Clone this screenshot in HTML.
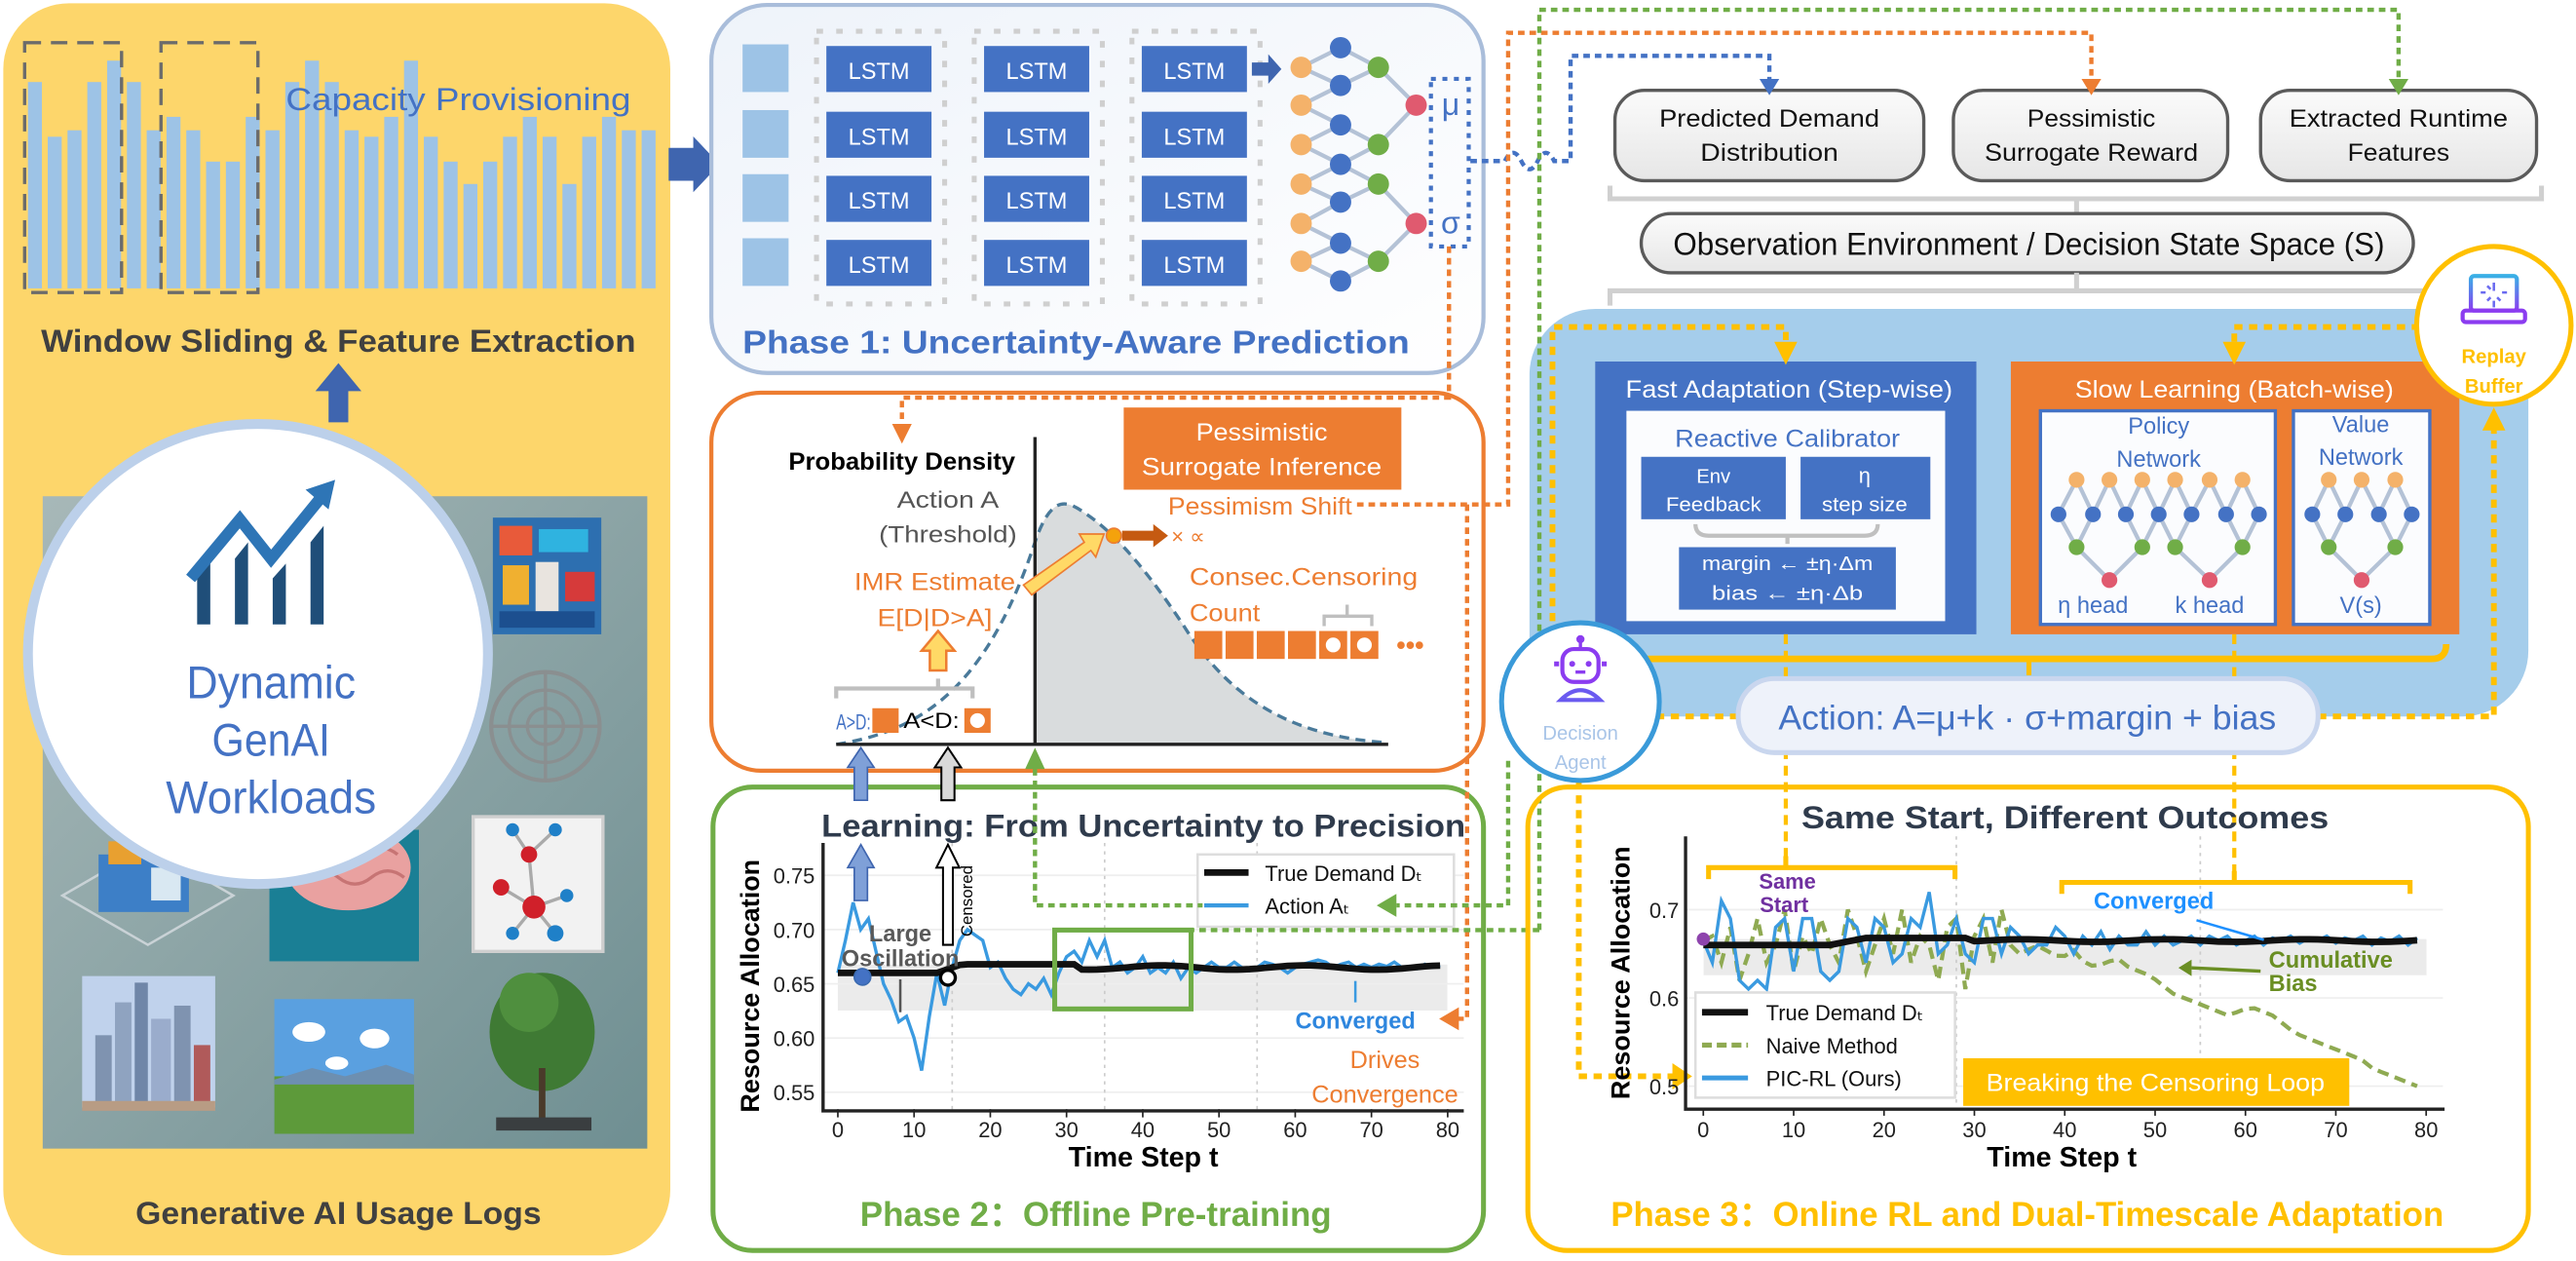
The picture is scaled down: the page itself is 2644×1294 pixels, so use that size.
<!DOCTYPE html>
<html><head><meta charset="utf-8"><style>
html,body{margin:0;padding:0;background:#fff;width:2644px;height:1294px;overflow:hidden}
svg{display:block}
text{font-family:"Liberation Sans","DejaVu Sans",sans-serif}
</style></head><body>
<svg id="s" width="2644" height="1294" viewBox="0 0 1568 767.4" preserveAspectRatio="none" xmlns="http://www.w3.org/2000/svg">
<defs>
<linearGradient id="gb" x1="0" y1="0" x2="0" y2="1"><stop offset="0" stop-color="#fbfbfb"/><stop offset="1" stop-color="#e6e6e6"/></linearGradient>
<linearGradient id="gp1" x1="0" y1="0" x2="1" y2="1"><stop offset="0" stop-color="#eef3fa"/><stop offset="1" stop-color="#ffffff"/></linearGradient>
<linearGradient id="gimg" x1="0" y1="0" x2="1" y2="1"><stop offset="0" stop-color="#a7b8b8"/><stop offset="1" stop-color="#6f8f92"/></linearGradient>
<linearGradient id="glap" x1="0" y1="0" x2="0" y2="1"><stop offset="0" stop-color="#3ab0e6"/><stop offset="1" stop-color="#8b3cf0"/></linearGradient>
</defs>

<!-- LEFT PANEL -->
<rect x="2" y="2" width="406" height="762" rx="40" fill="#FDD66B"/>
<g id="bars"></g>
<rect x="15" y="26" width="59" height="152" fill="none" stroke="#6b6b6b" stroke-width="2" stroke-dasharray="10,6"/>
<rect x="98" y="26" width="59" height="152" fill="none" stroke="#6b6b6b" stroke-width="2" stroke-dasharray="10,6"/>
<text x="279" y="67" text-anchor="middle" font-size="19" fill="#4472C4" textLength="210" lengthAdjust="spacingAndGlyphs">Capacity Provisioning</text>
<text x="206" y="214" text-anchor="middle" font-size="19" font-weight="bold" fill="#404040" textLength="362" lengthAdjust="spacingAndGlyphs">Window Sliding &amp; Feature Extraction</text>
<path d="M200,257V238H192L206,221L220,238H212V257z" fill="#3F65AF"/>
<path d="M407,90H422V83L438,100L422,117V110H407z" fill="#3F65AF"/>
<rect x="26" y="302" width="368" height="397" fill="url(#gimg)"/>
<g>
<rect x="300" y="315" width="66" height="71" fill="#2d6fb0"/>
<rect x="304" y="320" width="20" height="18" fill="#e85a3a"/><rect x="328" y="322" width="30" height="14" fill="#2fb3e0"/>
<rect x="306" y="344" width="16" height="24" fill="#f0b030"/><rect x="326" y="342" width="14" height="30" fill="#e9e4df"/>
<rect x="344" y="348" width="18" height="18" fill="#d63a3a"/><rect x="304" y="372" width="58" height="10" fill="#1c4f8f"/>
<circle cx="332" cy="442" r="33" fill="none" stroke="#8a8f90" stroke-width="2.5"/>
<circle cx="332" cy="442" r="22" fill="none" stroke="#8a8f90" stroke-width="2"/>
<circle cx="332" cy="442" r="11" fill="none" stroke="#8a8f90" stroke-width="2"/>
<path d="M299,442H365M332,409V475" stroke="#8a8f90" stroke-width="2"/>
<rect x="164" y="505" width="91" height="80" fill="#1a7f95"/>
<ellipse cx="212" cy="528" rx="38" ry="26" fill="#e9a1a0"/>
<path d="M182,520q10,-8 20,0t20,0t20,0M186,534q10,-8 20,0t20,0t20,0" stroke="#c77474" fill="none" stroke-width="2"/>
<rect x="288" y="497" width="79" height="82" fill="#f2f2f2" stroke="#cfcfcf" stroke-width="2"/>
<path d="M322,520L312,505M322,520L338,505M322,520L325,552M325,552L305,540M325,552L345,545M325,552L312,568M325,552L338,568" stroke="#aaa" stroke-width="2"/>
<circle cx="322" cy="520" r="5" fill="#d0202a"/><circle cx="312" cy="505" r="4" fill="#1f80c8"/><circle cx="338" cy="505" r="4" fill="#1f80c8"/>
<circle cx="325" cy="552" r="7" fill="#d0202a"/><circle cx="305" cy="540" r="5" fill="#d0202a"/><circle cx="345" cy="545" r="4" fill="#1f80c8"/>
<circle cx="312" cy="568" r="4" fill="#1f80c8"/><circle cx="338" cy="568" r="5" fill="#1f80c8"/>
<path d="M38,545L90,515L142,545L90,575z" fill="none" stroke="#c9d2d6" stroke-width="1.5"/>
<rect x="60" y="520" width="55" height="35" fill="#3d7fc7"/><rect x="66" y="512" width="20" height="14" fill="#e8a030"/><rect x="92" y="528" width="18" height="20" fill="#d9e8f2"/>
<rect x="50" y="594" width="81" height="80" fill="#c0d2ec"/>
<rect x="58" y="630" width="10" height="44" fill="#7f93b0"/><rect x="70" y="610" width="10" height="64" fill="#8fa3c0"/><rect x="82" y="598" width="8" height="76" fill="#6f86a8"/>
<rect x="92" y="620" width="12" height="54" fill="#9aaccc"/><rect x="106" y="612" width="10" height="62" fill="#7f93b0"/><rect x="118" y="636" width="10" height="38" fill="#b05a5a"/>
<rect x="50" y="670" width="81" height="6" fill="#b89c84"/>
<rect x="167" y="608" width="85" height="82" fill="#5aa0e0"/>
<ellipse cx="188" cy="628" rx="10" ry="6" fill="#fff"/><ellipse cx="228" cy="632" rx="9" ry="6" fill="#fff"/><ellipse cx="205" cy="647" rx="7" ry="4" fill="#fff"/>
<rect x="167" y="655" width="85" height="35" fill="#5d9a3a"/><path d="M167,657L190,650L210,655L235,648L252,654V660H167z" fill="#6d8fb0"/>
<ellipse cx="330" cy="628" rx="32" ry="36" fill="#3f7a34"/><ellipse cx="322" cy="610" rx="18" ry="18" fill="#4f8f3e"/>
<rect x="328" y="650" width="4" height="32" fill="#4a3a2a"/><rect x="302" y="680" width="58" height="8" fill="#3a3e40"/>
</g>
<circle cx="157" cy="398" r="140" fill="#fff" stroke="#BCD0EA" stroke-width="6"/>
<g fill="#1F4E79">
<path d="M120,380V352L128,342V380z"/><path d="M143,380V340L151,330V380z"/><path d="M166,380V352L174,343V380z"/><path d="M189,380V330L197,320V380z"/>
</g>
<path d="M116,352L146,316L165,340L196,302" stroke="#2E75B6" stroke-width="7" fill="none"/>
<path d="M186,298L204,292L200,310z" fill="#2E75B6"/>
<text x="165" y="425" text-anchor="middle" font-size="28" fill="#4472C4" textLength="103" lengthAdjust="spacingAndGlyphs">Dynamic</text>
<text x="165" y="460" text-anchor="middle" font-size="28" fill="#4472C4" textLength="72" lengthAdjust="spacingAndGlyphs">GenAI</text>
<text x="165" y="495" text-anchor="middle" font-size="28" fill="#4472C4" textLength="128" lengthAdjust="spacingAndGlyphs">Workloads</text>
<text x="206" y="745" text-anchor="middle" font-size="19" font-weight="bold" fill="#404040" textLength="247" lengthAdjust="spacingAndGlyphs">Generative AI Usage Logs</text>

<!-- PHASE 1 -->
<rect x="433" y="3" width="470" height="224" rx="34" fill="url(#gp1)" stroke="#A9BDDA" stroke-width="2.5"/>
<g fill="none" stroke="#cfcfcf" stroke-width="3" stroke-dasharray="4,8">
<rect x="497" y="19" width="78" height="166"/><rect x="593" y="19" width="78" height="166"/><rect x="689" y="19" width="78" height="166"/>
</g>
<g id="lstm"></g>
<path d="M762,38H772V33L780,42L772,51V46H762z" fill="#3F65AF"/>
<g id="net1"></g>
<rect x="871" y="48" width="23" height="102" fill="none" stroke="#4472C4" stroke-width="2.5" stroke-dasharray="3,4"/>
<text x="883" y="70" text-anchor="middle" font-size="19" fill="#4472C4">μ</text>
<text x="883" y="142" text-anchor="middle" font-size="19" fill="#4472C4">σ</text>
<text x="655" y="215" text-anchor="middle" font-size="20" font-weight="bold" fill="#4472C4" textLength="406" lengthAdjust="spacingAndGlyphs">Phase 1: Uncertainty-Aware Prediction</text>

<!-- ORANGE PANEL -->
<rect x="433" y="239" width="470" height="230" rx="30" fill="#fff" stroke="#ED7D31" stroke-width="2.5"/>
<path d="M630,453L630,330C640,300 650,305 660,312C680,325 700,350 720,380C745,420 780,448 845,452L845,453z" fill="#d9dcdd"/>
<path d="M509,453C560,445 600,420 630,330C640,300 650,305 660,312C680,325 700,350 720,380C745,420 780,448 845,452" fill="none" stroke="#4A7A9A" stroke-width="2" stroke-dasharray="6,4"/>
<path d="M630,266V453M509,453H845" stroke="#222" stroke-width="2"/>
<text x="549" y="286" text-anchor="middle" font-size="15" font-weight="bold" fill="#000" textLength="138" lengthAdjust="spacingAndGlyphs">Probability Density</text>
<text x="577" y="309" text-anchor="middle" font-size="14" fill="#555" textLength="62" lengthAdjust="spacingAndGlyphs">Action A</text>
<text x="577" y="330" text-anchor="middle" font-size="14" fill="#555" textLength="84" lengthAdjust="spacingAndGlyphs">(Threshold)</text>
<text x="569" y="359" text-anchor="middle" font-size="15" fill="#ED7D31" textLength="98" lengthAdjust="spacingAndGlyphs">IMR Estimate</text>
<text x="569" y="381" text-anchor="middle" font-size="15" fill="#ED7D31" textLength="70" lengthAdjust="spacingAndGlyphs">E[D|D&gt;A]</text>
<path d="M566,408V396H561L571,384L581,396H576V408z" fill="#FFD966" stroke="#ED7D31" stroke-width="1.5"/>
<path d="M509,425V419H592V425M571,419V413" fill="none" stroke="#bfbfbf" stroke-width="2.5"/>
<text x="509" y="444" font-size="13" fill="#4472C4" textLength="21" lengthAdjust="spacingAndGlyphs">A&gt;D:</text>
<rect x="531" y="431" width="16" height="15" fill="#ED7D31"/>
<text x="550" y="443" font-size="13" fill="#000" textLength="34" lengthAdjust="spacingAndGlyphs">A&lt;D:</text>
<rect x="587" y="431" width="16" height="15" fill="#ED7D31"/><circle cx="595" cy="438.5" r="4.5" fill="#fff"/>
<path d="M623,356L660,330L657,325L672,325L667,339L664,335L628,362z" fill="#FFD966" stroke="#ED7D31" stroke-width="1"/>
<rect x="684" y="248" width="169" height="50" fill="#ED7D31"/>
<text x="768" y="268" text-anchor="middle" font-size="15" fill="#fff" textLength="80" lengthAdjust="spacingAndGlyphs">Pessimistic</text>
<text x="768" y="289" text-anchor="middle" font-size="15" fill="#fff" textLength="146" lengthAdjust="spacingAndGlyphs">Surrogate Inference</text>
<text x="711" y="313" font-size="15" fill="#ED7D31" textLength="112" lengthAdjust="spacingAndGlyphs">Pessimism Shift</text>
<circle cx="678" cy="326" r="4.5" fill="#F4A20C" stroke="#ED7D31"/>
<path d="M683,323H702V319L711,326L702,333V329H683z" fill="#C55A11"/>
<text x="713" y="331" font-size="13" fill="#ED7D31">× ∝</text>
<text x="724" y="356" font-size="15" fill="#ED7D31" textLength="139" lengthAdjust="spacingAndGlyphs">Consec.Censoring</text>
<text x="724" y="378" font-size="15" fill="#ED7D31" textLength="43" lengthAdjust="spacingAndGlyphs">Count</text>
<g fill="#ED7D31"><rect x="727" y="384" width="17" height="17"/><rect x="746" y="384" width="17" height="17"/><rect x="765" y="384" width="17" height="17"/><rect x="784" y="384" width="17" height="17"/><rect x="803" y="384" width="17" height="17"/><rect x="822" y="384" width="17" height="17"/></g>
<circle cx="811.5" cy="392.5" r="4.5" fill="#fff"/><circle cx="830.5" cy="392.5" r="4.5" fill="#fff"/>
<path d="M806,381V375H835V381M820,375V368" fill="none" stroke="#bfbfbf" stroke-width="2"/>
<text x="850" y="398" font-size="16" fill="#ED7D31" font-weight="bold">•••</text>

<!-- PHASE 2 -->
<rect x="434" y="479" width="469" height="282" rx="24" fill="#fff" stroke="#70AD47" stroke-width="3"/>
<text x="696" y="509" text-anchor="middle" font-size="19" font-weight="bold" fill="#2F3B4C" textLength="392" lengthAdjust="spacingAndGlyphs">Learning: From Uncertainty to Precision</text>
<g id="ch2"></g>
<text x="667" y="746" text-anchor="middle" font-size="21" font-weight="bold" fill="#70AD47" textLength="287" lengthAdjust="spacingAndGlyphs">Phase 2：Offline Pre-training</text>

<!-- RIGHT TOP -->
<rect x="983" y="55" width="188" height="55" rx="18" fill="url(#gb)" stroke="#5a5a5a" stroke-width="2"/>
<rect x="1189" y="55" width="167" height="55" rx="18" fill="url(#gb)" stroke="#5a5a5a" stroke-width="2"/>
<rect x="1376" y="55" width="168" height="55" rx="18" fill="url(#gb)" stroke="#5a5a5a" stroke-width="2"/>
<g font-size="15" fill="#111" text-anchor="middle">
<text x="1077" y="77" textLength="134" lengthAdjust="spacingAndGlyphs">Predicted Demand</text>
<text x="1077" y="98" textLength="84" lengthAdjust="spacingAndGlyphs">Distribution</text>
<text x="1273" y="77" textLength="78" lengthAdjust="spacingAndGlyphs">Pessimistic</text>
<text x="1273" y="98" textLength="130" lengthAdjust="spacingAndGlyphs">Surrogate Reward</text>
<text x="1460" y="77" textLength="133" lengthAdjust="spacingAndGlyphs">Extracted Runtime</text>
<text x="1460" y="98" textLength="62" lengthAdjust="spacingAndGlyphs">Features</text>
</g>
<path d="M980,113V121H1547V113M1264,121V130" fill="none" stroke="#d0d0d0" stroke-width="3"/>
<rect x="999" y="130" width="470" height="36" rx="18" fill="url(#gb)" stroke="#5a5a5a" stroke-width="2"/>
<text x="1235" y="155" text-anchor="middle" font-size="19" fill="#111" textLength="433" lengthAdjust="spacingAndGlyphs">Observation Environment / Decision State Space (S)</text>
<path d="M1264,166V176M980,186V177H1530" fill="none" stroke="#d0d0d0" stroke-width="3"/>

<rect x="931" y="188" width="608" height="248" rx="40" fill="#A5CDEB"/>
<rect x="971" y="220" width="232" height="166" fill="#4472C4"/>
<text x="1089" y="242" text-anchor="middle" font-size="15" fill="#fff" textLength="199" lengthAdjust="spacingAndGlyphs">Fast Adaptation (Step-wise)</text>
<rect x="990" y="250" width="194" height="128" fill="#fbfcfe"/>
<text x="1088" y="272" text-anchor="middle" font-size="15" fill="#4472C4" textLength="137" lengthAdjust="spacingAndGlyphs">Reactive Calibrator</text>
<rect x="999" y="278" width="88" height="38" fill="#4472C4"/>
<rect x="1096" y="278" width="79" height="38" fill="#4472C4"/>
<text x="1043" y="294" text-anchor="middle" font-size="12" fill="#fff">Env</text>
<text x="1043" y="311" text-anchor="middle" font-size="12" fill="#fff" textLength="58" lengthAdjust="spacingAndGlyphs">Feedback</text>
<text x="1135" y="294" text-anchor="middle" font-size="13" fill="#fff">η</text>
<text x="1135" y="311" text-anchor="middle" font-size="12" fill="#fff" textLength="52" lengthAdjust="spacingAndGlyphs">step size</text>
<path d="M1032,319Q1032,326 1040,326H1135Q1143,326 1143,319M1088,326V331" fill="none" stroke="#c0c0c0" stroke-width="2.5"/>
<rect x="1022" y="333" width="132" height="38" fill="#4472C4"/>
<text x="1088" y="347" text-anchor="middle" font-size="12" fill="#fff" textLength="104" lengthAdjust="spacingAndGlyphs">margin ← ±η·Δm</text>
<text x="1088" y="365" text-anchor="middle" font-size="12" fill="#fff" textLength="92" lengthAdjust="spacingAndGlyphs">bias  ← ±η·Δb</text>
<rect x="1224" y="220" width="273" height="166" fill="#ED7D31"/>
<text x="1360" y="242" text-anchor="middle" font-size="15" fill="#fff" textLength="194" lengthAdjust="spacingAndGlyphs">Slow Learning (Batch-wise)</text>
<rect x="1242" y="250" width="143" height="130" fill="#fbfcfe" stroke="#4472C4" stroke-width="2"/>
<rect x="1396" y="250" width="83" height="130" fill="#fbfcfe" stroke="#4472C4" stroke-width="2"/>
<text x="1314" y="264" text-anchor="middle" font-size="14" fill="#4472C4">Policy</text>
<text x="1314" y="284" text-anchor="middle" font-size="14" fill="#4472C4">Network</text>
<text x="1437" y="263" text-anchor="middle" font-size="14" fill="#4472C4">Value</text>
<text x="1437" y="283" text-anchor="middle" font-size="14" fill="#4472C4">Network</text>
<g id="net2"></g>
<text x="1274" y="373" text-anchor="middle" font-size="14" fill="#4472C4">η head</text>
<text x="1345" y="373" text-anchor="middle" font-size="14" fill="#4472C4">k head</text>
<text x="1437" y="373" text-anchor="middle" font-size="14" fill="#4472C4">V(s)</text>
<path d="M1003,401H1480Q1489,401 1489,392" fill="none" stroke="#FFC000" stroke-width="4"/>
<path d="M1235,401V411" stroke="#FFC000" stroke-width="3"/>

<g fill="none" stroke-width="2.6">
<path d="M895,98H916Q921,88 926,98T936,98T946,98H956V34H1077V50" stroke="#4472C4" stroke-dasharray="4,3"/>
<path d="M882,150V242H549V262" stroke="#ED7D31" stroke-dasharray="4,3"/>
<path d="M826,307H918V20H1273V50" stroke="#ED7D31" stroke-dasharray="4,3"/>
<path d="M893,307V620H886" stroke="#ED7D31" stroke-dasharray="4,3"/>
<path d="M937,566V6H1460V50" stroke="#70AD47" stroke-dasharray="4,3"/>
<path d="M937,566H726" stroke="#70AD47" stroke-dasharray="4,3"/>
<path d="M918,463V551H850" stroke="#70AD47" stroke-dasharray="4,3"/>
<path d="M630,468V551H732" stroke="#70AD47" stroke-dasharray="4,3"/>
<path d="M945,378V199H1087V212" stroke="#FFC000" stroke-width="3.5" stroke-dasharray="5,4"/>
<path d="M1509,199H1360V212" stroke="#FFC000" stroke-width="3.5" stroke-dasharray="5,4"/>
<path d="M1087,386V526M1360,386V535" stroke="#FFC000" stroke-width="2.5" stroke-dasharray="6,4"/>
<path d="M1008,436H1058M1411,436H1518V258" stroke="#FFC000" stroke-width="3.5" stroke-dasharray="5,4"/>
<path d="M961,475V655H1020" stroke="#FFC000" stroke-width="3.5" stroke-dasharray="5,4"/>
</g>
<path d="M1071,48H1083L1077,58z" fill="#4472C4"/>
<path d="M1267,48H1279L1273,58z" fill="#ED7D31"/>
<path d="M1454,48H1466L1460,58z" fill="#70AD47"/>
<path d="M543,258H555L549,270z" fill="#ED7D31"/>
<path d="M1080,208H1094L1087,222z" fill="#FFC000"/>
<path d="M1353,208H1367L1360,222z" fill="#FFC000"/>
<path d="M1511,262H1525L1518,248z" fill="#FFC000"/>
<path d="M1018,647V663L1030,655z" fill="#FFC000"/>
<path d="M888,613V627L876,620z" fill="#ED7D31"/>
<path d="M850,544V558L838,551z" fill="#70AD47"/>
<path d="M520,487V467H516L524,455L532,467H528V487z" fill="#7FA0D8" stroke="#3F65AF" stroke-width="1"/>
<path d="M573,487V467H569L577,455L585,467H581V487z" fill="#d9d9d9" stroke="#000" stroke-width="1.2"/>
<path d="M624,468H636L630,455z" fill="#70AD47"/>
<path d="M520,548V528H516L524,514L532,528H528V548z" fill="#7FA0D8" stroke="#3F65AF" stroke-width="1"/>
<path d="M574,575V528H570L577,514L584,528H580V575z" fill="#fff" stroke="#000" stroke-width="1.2"/>

<rect x="1058" y="413" width="353" height="45" rx="22" fill="#EEF2FA" stroke="#C9D6EE" stroke-width="3"/>
<text x="1234" y="444" text-anchor="middle" font-size="21" fill="#4472C4" textLength="303" lengthAdjust="spacingAndGlyphs">Action: A=μ+k · σ+margin + bias</text>

<ellipse cx="1518" cy="198" rx="47" ry="48" fill="#fff" stroke="#FFC000" stroke-width="3"/>
<rect x="1504" y="168" width="28" height="21" rx="2" fill="none" stroke="url(#glap)" stroke-width="2.5"/>
<rect x="1499" y="189" width="38" height="7" rx="2" fill="none" stroke="#8b3cf0" stroke-width="2.5"/>
<path d="M1518,172V177M1518,183V187M1513,178H1510M1526,178H1523M1514,174L1516,176M1522,183L1520,181M1514,183L1516,181" stroke="#6a6af0" stroke-width="1.5"/>
<text x="1518" y="221" text-anchor="middle" font-size="12" font-weight="bold" fill="#FFC000">Replay</text>
<text x="1518" y="239" text-anchor="middle" font-size="12" font-weight="bold" fill="#FFC000">Buffer</text>

<circle cx="962" cy="427" r="48" fill="#fff" stroke="#3A9AD9" stroke-width="3"/>
<circle cx="962" cy="389" r="2.5" fill="#8b3cf0"/><path d="M962,391V395" stroke="#8b3cf0" stroke-width="2"/>
<rect x="951" y="395" width="22" height="20" rx="7" fill="none" stroke="#8b3cf0" stroke-width="2.5"/>
<circle cx="957" cy="404" r="1.8" fill="#8b3cf0"/><circle cx="967" cy="404" r="1.8" fill="#8b3cf0"/>
<path d="M959,409H965" stroke="#8b3cf0" stroke-width="2"/>
<path d="M949,404H946M975,404H978" stroke="#8b3cf0" stroke-width="3"/>
<path d="M950,426Q962,414 974,426z" fill="none" stroke="#6a5af0" stroke-width="2.5"/>
<text x="962" y="450" text-anchor="middle" font-size="12" fill="#A9C5E8">Decision</text>
<text x="962" y="468" text-anchor="middle" font-size="12" fill="#A9C5E8">Agent</text>

<rect x="930" y="479" width="609" height="282" rx="24" fill="none" stroke="#FFC000" stroke-width="3"/>
<text x="1257" y="504" text-anchor="middle" font-size="19" font-weight="bold" fill="#2F3B4C" textLength="321" lengthAdjust="spacingAndGlyphs">Same Start, Different Outcomes</text>
<g id="ch3"></g>
<text x="1234" y="746" text-anchor="middle" font-size="21" font-weight="bold" fill="#FFC000" textLength="507" lengthAdjust="spacingAndGlyphs">Phase 3：Online RL and Dual-Timescale Adaptation</text>
</svg>
<script>
var NS="http://www.w3.org/2000/svg";
function el(p,tag,a,txt){var e=document.createElementNS(NS,tag);for(var k in a)e.setAttribute(k,a[k]);if(txt!=null)e.textContent=txt;document.getElementById(p).appendChild(e);return e;}
var tops=[165,275,262,165,122,165,262,235,262,325,325,235,262,165,122,165,262,275,235,122,275,325,370,325,275,235,275,370,275,235,262,262];
for(var i=0;i<tops.length;i++){var t=tops[i]*0.3026;el("bars","rect",{x:17+i*12.05,y:t,width:8.5,height:175.5-t,fill:"#9DC3E6"});}
var ry=[27,67,106,145];
for(var r=0;r<4;r++){el("lstm","rect",{x:452,y:ry[r],width:28,height:29,fill:"#9DC3E6"});
 [503,599,695].forEach(function(x){el("lstm","rect",{x:x,y:ry[r]+1,width:64,height:28,fill:"#4472C4"});el("lstm","text",{x:x+32,y:ry[r]+21,"text-anchor":"middle","font-size":"14",fill:"#fff"},"LSTM");});}
function net(g,O,B,G,R,rad,ox,bx,gx,rx,horiz){
 var ln=function(a,b){el(g,"line",{x1:a[0],y1:a[1],x2:b[0],y2:b[1],stroke:"#B4C2D6","stroke-width":2.5});};
 var on=[],bn=[],gn=[],rn=[];
 O.forEach(function(v){on.push(horiz?[v,ox]:[ox,v]);});B.forEach(function(v){bn.push(horiz?[v,bx]:[bx,v]);});
 G.forEach(function(v){gn.push(horiz?[v,gx]:[gx,v]);});R.forEach(function(v){rn.push(horiz?[v,rx]:[rx,v]);});
 on.forEach(function(p,i){ln(p,bn[i]);ln(p,bn[i+1]);});
 gn.forEach(function(p){var c=horiz?0:1;var s=bn.slice().sort(function(a,b){return Math.abs(a[c]-p[c])-Math.abs(b[c]-p[c]);});ln(p,s[0]);ln(p,s[1]);});
 rn.forEach(function(p){var c=horiz?0:1;var s=gn.slice().sort(function(a,b){return Math.abs(a[c]-p[c])-Math.abs(b[c]-p[c]);});ln(p,s[0]);ln(p,s[1]);});
 var dot=function(arr,col){arr.forEach(function(p){el(g,"circle",{cx:p[0],cy:p[1],r:rad,fill:col});});};
 dot(on,"#F4B26A");dot(bn,"#4472C4");dot(gn,"#70AD47");dot(rn,"#E05A6F");}
net("net1",[41,64,88,112,136,159],[29,52,76,100,123,148,171],[41,88,112,159],[64,136],6.5,792,816,839,862,false);
net("net2",[1264,1284,1304,1324,1345,1365],[1253,1274,1294,1314,1334,1355,1375],[1264,1304,1324,1365],[1284,1345],4.8,292,313,333,353,true);
net("net2",[1417.5,1437.5,1458],[1407.5,1427.6,1448,1468],[1417.5,1458],[1437.5],4.8,292,313,333,353,true);
function path(arr,fx,fy){var d="";arr.forEach(function(v,i){d+=(i?"L":"M")+fx(i).toFixed(1)+","+fy(v).toFixed(1);});return d;}
(function(){var g="ch2",X=function(t){return 510+t*4.64},Y=function(v){return 598.7-(v-0.65)*660};
 el(g,"rect",{x:510,y:587,width:371,height:28,fill:"#EBEBEB"});
 [0.75,0.70,0.65,0.60,0.55].forEach(function(v){el(g,"line",{x1:501,x2:891,y1:Y(v),y2:Y(v),stroke:"#eee"});el(g,"text",{x:496,y:Y(v)+5,"text-anchor":"end","font-size":13,fill:"#222"},v.toFixed(2));});
 [15,35,55].forEach(function(t){el(g,"line",{x1:X(t),x2:X(t),y1:513,y2:675,stroke:"#ccc","stroke-dasharray":"2,3"});});
 for(var t=0;t<=80;t+=10){el(g,"line",{x1:X(t),x2:X(t),y1:675,y2:680,stroke:"#222"});el(g,"text",{x:X(t),y:692,"text-anchor":"middle","font-size":13,fill:"#222"},t);}
 el(g,"path",{d:"M501,513V676H891",fill:"none",stroke:"#222","stroke-width":2});
 var a=[0.66,0.69,0.725,0.70,0.71,0.68,0.65,0.635,0.615,0.62,0.60,0.57,0.62,0.66,0.63,0.665,0.69,0.70,0.695,0.69,0.665,0.67,0.655,0.645,0.64,0.65,0.645,0.655,0.64,0.66,0.675,0.68,0.67,0.69,0.675,0.69,0.665,0.67,0.66,0.665,0.675,0.66,0.665,0.66,0.67,0.655,0.665,0.66,0.665,0.67,0.665,0.665,0.67,0.665,0.662,0.665,0.67,0.668,0.665,0.66,0.665,0.668,0.67,0.672,0.67,0.665,0.668,0.67,0.665,0.668,0.665,0.668,0.666,0.67,0.665,0.666,0.664,0.668,0.665,0.667];
 var d=[];for(var t=0;t<80;t++){d.push(t<14?0.66:(t<17?0.66+(t-13)*0.0025:(t<32?0.668:0.665+0.002*Math.sin(t/3))));}
 el(g,"path",{d:path(a,X,Y),fill:"none",stroke:"#3A9AE0","stroke-width":2});
 el(g,"path",{d:path(d,X,Y),fill:"none",stroke:"#111","stroke-width":4});
 el(g,"rect",{x:642,y:566,width:83,height:48,fill:"none",stroke:"#70AD47","stroke-width":3});
 el(g,"rect",{x:729,y:520,width:156,height:44,fill:"#fff",stroke:"#ddd","stroke-width":1.5});
 el(g,"line",{x1:733,x2:760,y1:531,y2:531,stroke:"#111","stroke-width":4});
 el(g,"line",{x1:733,x2:760,y1:551,y2:551,stroke:"#3A9AE0","stroke-width":2.5});
 el(g,"text",{x:770,y:536,"font-size":13,fill:"#111"},"True Demand D\u209c");
 el(g,"text",{x:770,y:556,"font-size":13,fill:"#111"},"Action A\u209c");
 el(g,"circle",{cx:525,cy:594.5,r:5,fill:"#4472C4",stroke:"#3A6AB0"});
 el(g,"circle",{cx:577,cy:595,r:4.5,fill:"#fff",stroke:"#000","stroke-width":2});
 el(g,"path",{d:"M548,596V616",stroke:"#555","stroke-width":1.5});
 el(g,"text",{x:548,y:573,"text-anchor":"middle","font-size":14,"font-weight":"bold",fill:"#595959"},"Large");
 el(g,"text",{x:548,y:588,"text-anchor":"middle","font-size":14,"font-weight":"bold",fill:"#595959"},"Oscillation");
 el(g,"text",{x:0,y:0,transform:"translate(592,570) rotate(-90)","font-size":10,fill:"#000"},"Censored");
 el(g,"path",{d:"M825,610V597",stroke:"#3A9AE0","stroke-width":1.5});
 el(g,"text",{x:825,y:626,"text-anchor":"middle","font-size":14,"font-weight":"bold",fill:"#2E86DE"},"Converged");
 el(g,"text",{x:843,y:650,"text-anchor":"middle","font-size":15,fill:"#ED7D31"},"Drives");
 el(g,"text",{x:843,y:671,"text-anchor":"middle","font-size":15,fill:"#ED7D31"},"Convergence");
 el(g,"text",{x:0,y:0,transform:"translate(462,600) rotate(-90)","text-anchor":"middle","font-size":16,"font-weight":"bold",fill:"#000"},"Resource Allocation");
 el(g,"text",{x:696,y:710,"text-anchor":"middle","font-size":17,"font-weight":"bold",fill:"#000"},"Time Step t");
})();
(function(){var g="ch3",X=function(t){return 1036.8+t*5.5},Y=function(v){return 553.6-(v-0.7)*537};
 el(g,"rect",{x:1037,y:571.5,width:440,height:22,fill:"#EBEBEB"});
 [0.7,0.6,0.5].forEach(function(v){el(g,"line",{x1:1026,x2:1487,y1:Y(v),y2:Y(v),stroke:"#eee"});el(g,"text",{x:1022,y:Y(v)+5,"text-anchor":"end","font-size":13,fill:"#222"},v.toFixed(1));});
 [28,55].forEach(function(t){el(g,"line",{x1:X(t),x2:X(t),y1:509,y2:674,stroke:"#ccc","stroke-dasharray":"2,3"});});
 for(var t=0;t<=80;t+=10){el(g,"line",{x1:X(t),x2:X(t),y1:674,y2:679,stroke:"#222"});el(g,"text",{x:X(t),y:692,"text-anchor":"middle","font-size":13,fill:"#222"},t);}
 el(g,"path",{d:"M1026,509V675H1488",fill:"none",stroke:"#222","stroke-width":2});
 var n=[0.665,0.67,0.64,0.68,0.62,0.65,0.69,0.64,0.66,0.70,0.63,0.67,0.65,0.69,0.66,0.64,0.70,0.67,0.63,0.66,0.69,0.65,0.70,0.64,0.67,0.66,0.62,0.68,0.69,0.61,0.67,0.69,0.64,0.70,0.66,0.65,0.655,0.66,0.65,0.645,0.655,0.64,0.635,0.64,0.645,0.635,0.63,0.625,0.615,0.605,0.60,0.595,0.59,0.585,0.58,0.585,0.59,0.585,0.58,0.57,0.56,0.555,0.55,0.545,0.54,0.535,0.53,0.52,0.515,0.51,0.505,0.50];
 var nv=[];for(var i=0;i<80;i++){if(i<36)nv.push(n[i]);else{var f=(i-36)/(79-36)*(n.length-1-36)+36;var k=Math.floor(f),r=f-k;nv.push(n[k]*(1-r)+(n[Math.min(k+1,n.length-1)])*r);}}
 var p=[0.665,0.64,0.71,0.69,0.62,0.61,0.62,0.61,0.68,0.69,0.63,0.69,0.69,0.63,0.62,0.63,0.69,0.68,0.64,0.69,0.68,0.64,0.65,0.69,0.68,0.72,0.65,0.66,0.69,0.65,0.64,0.69,0.69,0.65,0.68,0.67,0.65,0.66,0.66,0.68,0.67,0.65,0.67,0.66,0.675,0.655,0.67,0.66,0.66,0.675,0.66,0.67,0.66,0.665,0.67,0.66,0.67,0.665,0.67,0.66,0.665,0.67,0.66,0.668,0.665,0.67,0.662,0.668,0.665,0.67,0.662,0.668,0.665,0.67,0.66,0.668,0.664,0.67,0.66,0.668];
 var d=[];for(var t=0;t<80;t++){d.push(t<14?0.66:(t<18?0.66+(t-14)*0.002:(t<30?0.668:0.665+0.0015*Math.sin(t/2.5))));}
 el(g,"path",{d:path(nv,X,Y),fill:"none",stroke:"#8FAA52","stroke-width":2.5,"stroke-dasharray":"7,4"});
 el(g,"path",{d:path(p,X,Y),fill:"none",stroke:"#3A9AE0","stroke-width":2});
 el(g,"path",{d:path(d,X,Y),fill:"none",stroke:"#111","stroke-width":4});
 el(g,"circle",{cx:1036.8,cy:571.5,r:4,fill:"#8E44AD"});
 el(g,"path",{d:"M1040,535V528H1190V535M1087,528V521",fill:"none",stroke:"#FFC000","stroke-width":3});
 el(g,"path",{d:"M1255,544V537H1467V544M1360,537V530",fill:"none",stroke:"#FFC000","stroke-width":3});
 el(g,"text",{x:1088,y:541,"text-anchor":"middle","font-size":13,"font-weight":"bold",fill:"#7030A0"},"Same");
 el(g,"text",{x:1086,y:555,"text-anchor":"middle","font-size":13,"font-weight":"bold",fill:"#7030A0"},"Start");
 el(g,"text",{x:1311,y:553,"text-anchor":"middle","font-size":14,"font-weight":"bold",fill:"#1E90FF"},"Converged");
 el(g,"path",{d:"M1337,560L1378,572",stroke:"#1E90FF","stroke-width":1.5,fill:"none"});
 el(g,"text",{x:1381,y:589,"font-size":14,"font-weight":"bold",fill:"#6A8E23"},"Cumulative");
 el(g,"text",{x:1381,y:603,"font-size":14,"font-weight":"bold",fill:"#6A8E23"},"Bias");
 el(g,"path",{d:"M1376,591L1334,589",stroke:"#6A8E23","stroke-width":2,fill:"none"});
 el(g,"path",{d:"M1334,584L1326,589L1334,594z",fill:"#6A8E23"});
 el(g,"rect",{x:1032,y:604,width:158,height:64,fill:"#fff",stroke:"#ddd","stroke-width":1.5});
 el(g,"line",{x1:1036,x2:1064,y1:616,y2:616,stroke:"#111","stroke-width":4});
 el(g,"line",{x1:1036,x2:1064,y1:636,y2:636,stroke:"#8FAA52","stroke-width":3,"stroke-dasharray":"6,3"});
 el(g,"line",{x1:1036,x2:1064,y1:656,y2:656,stroke:"#3A9AE0","stroke-width":3});
 el(g,"text",{x:1075,y:621,"font-size":13,fill:"#111"},"True Demand D\u209c");
 el(g,"text",{x:1075,y:641,"font-size":13,fill:"#111"},"Naive Method");
 el(g,"text",{x:1075,y:661,"font-size":13,fill:"#111"},"PIC-RL (Ours)");
 el(g,"rect",{x:1195,y:644,width:235,height:29,fill:"#FFC000"});
 el(g,"text",{x:1312,y:664,"text-anchor":"middle","font-size":15,fill:"#fff",textLength:206,lengthAdjust:"spacingAndGlyphs"},"Breaking the Censoring Loop");
 el(g,"text",{x:0,y:0,transform:"translate(992,592) rotate(-90)","text-anchor":"middle","font-size":16,"font-weight":"bold",fill:"#000"},"Resource Allocation");
 el(g,"text",{x:1255,y:710,"text-anchor":"middle","font-size":17,"font-weight":"bold",fill:"#000"},"Time Step t");
})();
</script>
</body></html>
